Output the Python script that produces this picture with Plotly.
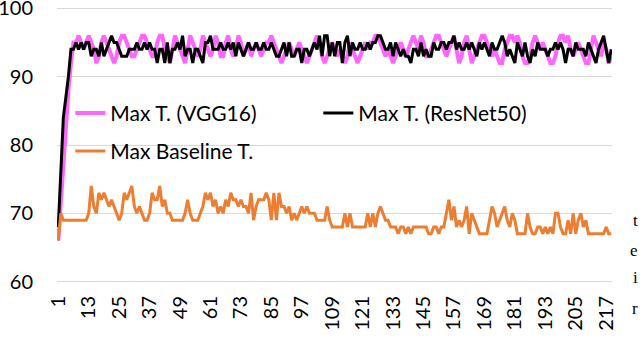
import plotly.graph_objects as go

# ---- data ----
epochs = list(range(1, 220))

vgg16_max_t = [
    66, 72, 78, 84, 88, 92, 95, 95, 96, 95, 94, 95, 96, 95, 94, 92, 93, 95, 96, 95,
    94, 93, 92, 93, 95, 96, 96, 95, 94, 93, 93, 94, 95, 96, 96, 95, 94, 93, 93, 95,
    96, 96, 94, 93, 92, 94, 96, 95, 94, 93, 92, 94, 96, 95, 94, 93, 94, 96, 95, 94,
    93, 94, 96, 95, 93, 93, 95, 96, 94, 93, 94, 96, 95, 93,
    94, 95, 93, 94, 95, 94, 93, 94, 95, 95, 96, 95, 94, 93, 92, 93, 94, 95, 94, 93,
    94, 95, 94, 93, 92, 93, 94, 95, 96, 95, 93, 92, 93, 94, 95, 94, 93, 94, 93, 92,
    93, 95, 94, 93, 92, 93, 94, 95, 94, 95, 95, 96, 96, 95, 94, 93, 94, 93, 92, 93,
    94, 95, 94, 93, 94, 95, 96, 95, 94, 96, 95, 93,
    93, 94, 95, 96, 96, 95, 94, 93, 94, 95, 96, 94, 92, 93, 95, 96, 94, 92, 93, 94,
    95, 96, 96, 95, 94, 93, 94, 93, 92, 92, 94, 95, 96, 96, 95, 96, 95, 93, 92, 92,
    93, 95, 96, 95, 94, 95, 94, 93, 92, 92, 93, 95, 96, 96, 95, 96, 94, 93, 94, 95,
    94, 93, 92, 92, 94, 96, 95, 94, 93, 95, 94, 92, 93,
]

resnet50_max_t = [
    68, 76, 84, 87, 90, 94, 94, 95, 94, 95, 94, 95, 95, 93, 94, 94, 93, 95, 93, 94,
    95, 96, 95, 95, 94, 93, 93, 93, 94, 94, 94, 95, 94, 94, 95, 94, 95, 94, 94, 92,
    94, 94, 92, 95, 92, 94, 94, 95, 94, 96, 93, 94, 94, 92, 94, 94, 93, 92, 95, 95,
    96, 94, 94, 94, 95, 94, 94, 95, 94, 95, 93, 95, 94, 93,
    94, 95, 94, 94, 95, 94, 94, 95, 94, 94, 95, 94, 93, 93, 94, 95, 93, 95, 93, 93,
    94, 94, 92, 94, 94, 93, 94, 95, 94, 96, 93, 96, 96, 93, 95, 93, 95, 95, 92, 95,
    96, 93, 95, 94, 94, 95, 94, 94, 95, 94, 95, 95, 96, 96, 95, 94, 94, 95, 93, 95,
    94, 93, 94, 93, 93, 92, 94, 94, 93, 95, 93, 94,
    93, 93, 95, 94, 94, 95, 95, 94, 95, 95, 96, 94, 95, 94, 94, 95, 94, 95, 94, 93,
    95, 94, 95, 94, 93, 95, 94, 94, 95, 96, 95, 93, 94, 93, 92, 95, 94, 93, 95, 93,
    92, 94, 93, 95, 94, 94, 94, 93, 94, 94, 95, 94, 95, 94, 92, 94, 94, 93, 95, 94,
    94, 94, 93, 95, 94, 93, 92, 94, 95, 96, 94, 92, 94,
]

baseline_max_t = [
    66, 70, 69, 69, 69, 69, 69, 69, 69, 69, 69, 69, 70, 74, 71, 70, 73, 72, 73, 72,
    71, 72, 71, 70, 69, 70, 73, 72, 73, 74, 71, 70, 71, 70, 69, 69, 70, 73, 72, 72,
    74, 71, 72, 70, 70, 69, 69, 69, 69, 69, 70, 72, 70, 69, 69, 69, 70, 71, 73, 72,
    73, 71, 72, 70, 71, 70, 72, 71, 73, 72, 72, 71, 72, 71,
    71, 70, 73, 69, 71, 72, 72, 72, 73, 72, 69, 73, 69, 73, 71, 71, 70, 71, 69, 70,
    69, 70, 71, 70, 71, 70, 70, 70, 69, 69, 69, 69, 71, 69, 68, 68, 68, 68, 68, 70,
    68, 70, 68, 68, 68, 68, 68, 68, 70, 68, 70, 68, 70, 71, 70, 69, 69, 68, 68, 68,
    67, 68, 68, 67, 68, 67, 68, 68, 68, 68, 68, 68, 67,
    67, 68, 68, 67, 68, 68, 70, 72, 69, 71, 68, 69, 68, 69, 71, 67, 70, 69, 68, 67,
    67, 67, 67, 69, 71, 70, 68, 69, 70, 71, 69, 68, 70, 69, 67, 67, 67, 67, 70, 68,
    67, 67, 68, 68, 67, 68, 67, 68, 67, 70, 70, 68, 67, 67, 69, 67, 70, 67, 69, 70,
    68, 69, 67, 67, 67, 67, 67, 67, 67, 68, 67, 67,
]

x_tick_vals = [1, 13, 25, 37, 49, 61, 73, 85, 97, 109, 121, 133, 145, 157, 169, 181, 193, 205, 217]
y_tick_vals = [60, 70, 80, 90, 100]

series_names = ["Max T. (VGG16)", "Max T. (ResNet50)", "Max Baseline T."]
series_colors = ["#FF66FF", "#000000", "#ED7D31"]

FONT = "Lato"

fig = go.Figure()
fig.add_trace(go.Scatter(x=epochs, y=vgg16_max_t, mode="lines", name=series_names[0],
                         line=dict(color=series_colors[0], width=4), legend="legend"))
fig.add_trace(go.Scatter(x=epochs, y=resnet50_max_t, mode="lines", name=series_names[1],
                         line=dict(color=series_colors[1], width=3), legend="legend"))
fig.add_trace(go.Scatter(x=epochs, y=baseline_max_t, mode="lines", name=series_names[2],
                         line=dict(color=series_colors[2], width=3), legend="legend2"))

fig.update_layout(
    width=640, height=362,
    margin=dict(l=57, r=28, t=7, b=79, autoexpand=False),
    paper_bgcolor="white", plot_bgcolor="white",
    font=dict(family=FONT, color="#000000"),
    showlegend=True,
    legend=dict(orientation="h", x=0.024, xanchor="left", y=0.615, yanchor="middle",
                entrywidth=203, font=dict(size=21, family=FONT),
                bgcolor="rgba(0,0,0,0)", itemwidth=30),
    legend2=dict(orientation="h", x=0.024, xanchor="left", y=0.477, yanchor="middle",
                 font=dict(size=21, family=FONT), bgcolor="rgba(0,0,0,0)", itemwidth=30),
    xaxis=dict(range=[0.5, 219.3], tickmode="array", tickvals=x_tick_vals,
               ticktext=[str(v) for v in x_tick_vals], tickangle=-90,
               showgrid=False, zeroline=False, showline=False, ticks="",
               automargin=False, ticklabeloverflow="allow",
               tickfont=dict(size=20, family=FONT), ticklabelstandoff=8),
    yaxis=dict(range=[59.8, 100.2], tickmode="array", tickvals=y_tick_vals,
               showgrid=True, gridcolor="#D9D9D9", gridwidth=1, zeroline=False,
               showline=False, ticks="", automargin=False, ticklabeloverflow="allow",
               tickfont=dict(size=20, family=FONT), ticklabelstandoff=23),
)

side_letters = ["t", "e", "i", "r"]
side_y_px = [220, 250, 277, 308]
for ch, ypx in zip(side_letters, side_y_px):
    fig.add_annotation(text=ch, xref="paper", yref="paper",
                       x=(640 - 57) / 555, y=(283 - ypx) / 276,
                       xanchor="right", yanchor="middle", showarrow=False,
                       font=dict(family="Liberation Serif", size=17, color="#000000"))

fig.write_html(
    "out.html",
    config={"displayModeBar": False},
    post_script="document.body.style.margin='0';document.body.style.overflow='hidden';",
)
